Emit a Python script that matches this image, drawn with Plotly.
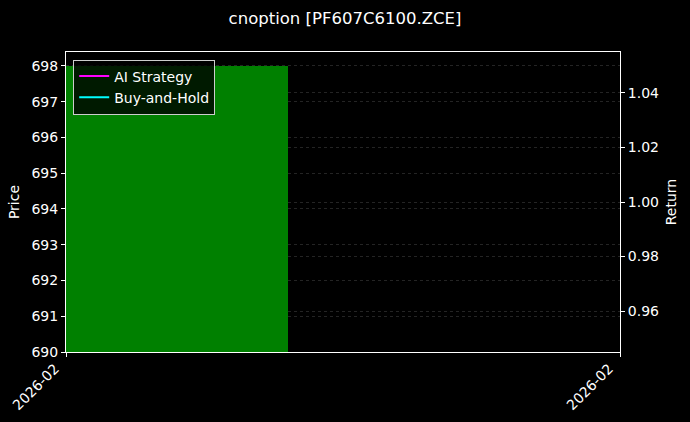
import plotly.graph_objects as go

# chart data
symbol = 'PF607C6100.ZCE'
bar_x = [0.2]
bar_price = [698]
strategy_x = [0.2]
strategy_return = [1.0]
hold_x = [0.2]
hold_return = [1.0]
x_ticks = [0, 1]
x_tick_labels = ['2026-02', '2026-02']
price_ticks = [690, 691, 692, 693, 694, 695, 696, 697, 698]
return_ticks = [0.96, 0.98, 1.00, 1.02, 1.04]

FONT = 'DejaVu Sans'
GRID = 'rgba(128,128,128,0.28)'

fig = go.Figure()

fig.add_trace(go.Bar(
    x=bar_x, y=bar_price, width=0.4,
    marker=dict(color='#008000', line=dict(width=0)),
    showlegend=False,
))
fig.add_trace(go.Scatter(
    x=strategy_x, y=strategy_return, name='AI Strategy', yaxis='y2',
    mode='lines', line=dict(color='#ff00ff', width=2),
))
fig.add_trace(go.Scatter(
    x=hold_x, y=hold_return, name='Buy-and-Hold', yaxis='y2',
    mode='lines', line=dict(color='#00ffff', width=2),
))

fig.update_layout(
    width=690, height=422,
    paper_bgcolor='black', plot_bgcolor='black',
    font=dict(family=FONT, color='white', size=14),
    margin=dict(l=66, r=70, t=52, b=70),
    title=dict(text=f'cnoption [{symbol}]', x=0.5, xanchor='center',
               y=0.957, yanchor='middle', font=dict(size=16.5)),
    bargap=0,
    xaxis=dict(
        range=[0, 1], tickvals=x_ticks, ticktext=x_tick_labels,
        tickangle=-45, ticks='outside', ticklen=4, tickcolor='white',
        ticklabelshift=-11, ticklabelstandoff=-2,
        showgrid=False, zeroline=False, automargin=False,
        showline=True, linecolor='white', linewidth=1, mirror=True,
    ),
    yaxis=dict(
        title=dict(text='Price', standoff=8, font=dict(size=14)),
        range=[690, 698.39], automargin=False,
        tickvals=price_ticks, ticks='outside', ticklen=4, tickcolor='white',
        showgrid=True, gridcolor=GRID, griddash='dot', gridwidth=0.6,
        zeroline=False, showline=True, linecolor='white', linewidth=1,
    ),
    yaxis2=dict(
        title=dict(text='Return', standoff=8, font=dict(size=14)),
        range=[0.945, 1.055], automargin=False,
        overlaying='y', side='right', tickvals=return_ticks,
        tickformat='.2f', ticks='outside', ticklen=4, tickcolor='white',
        showgrid=True, gridcolor=GRID, griddash='dot', gridwidth=0.6,
        zeroline=False, showline=True, linecolor='white', linewidth=1,
    ),
    legend=dict(
        x=0.013, y=0.975, xanchor='left', yanchor='top',
        bgcolor='rgba(0,0,0,0.8)', bordercolor='#cccccc', borderwidth=1,
        font=dict(size=14), itemwidth=30, tracegroupgap=0,
    ),
)

# drop the browser's default body margin so the figure sits at 0,0
fig.write_html('out.html', config={'displayModeBar': False},
               post_script="document.body.style.margin='0';")
